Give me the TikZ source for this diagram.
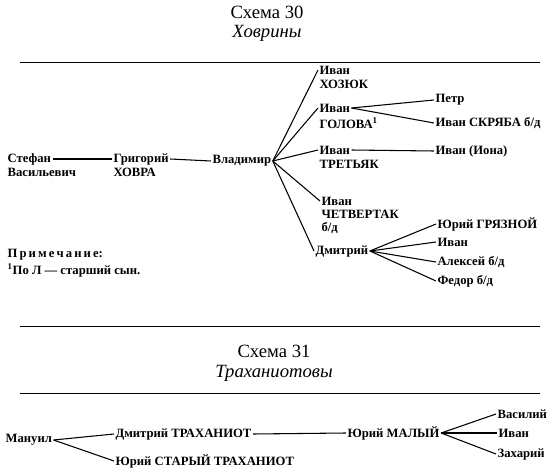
\documentclass[tikz,border=0pt]{standalone}
\usepackage{fontspec}
\setmainfont{Liberation Serif}
\begin{document}
\begin{tikzpicture}[x=0.75pt,y=-0.75pt,
  lbl/.style={font=\bfseries\fontsize{9.5}{11}\selectfont, inner sep=1pt, anchor=west},
  ttl/.style={font=\fontsize{14}{16}\selectfont, inner sep=0pt},
  con/.style={line width=0.8pt},
  rule/.style={line width=0.65pt}]
\useasboundingbox (0,0) rectangle (550,474);
% titles
\node[ttl] (t30) at (267,12) {Схема 30};
\node[ttl] (t30b) at (267,33) {\itshape Ховрины};
\coordinate (r1a) at (20,62); \coordinate (r1b) at (540,62);
\draw[rule] (r1a) -- (r1b);
% scheme 30
\node[lbl] (stef) at (6,159) {Стефан};
\node[lbl] (stef2) at (6,172) {Васильевич};
\node[lbl] (grig) at (112,159) {Григорий};
\node[lbl] (grig2) at (112,172) {ХОВРА};
\node[lbl] (vlad) at (211,161) {Владимир};
\node[lbl] (iv1) at (318,70) {Иван};
\node[lbl] (iv1b) at (318,84) {ХОЗЮК};
\node[lbl] (iv2) at (318,108) {Иван};
\node[lbl] (iv2b) at (318,123) {ГОЛОВА\textsuperscript{1}};
\node[lbl] (petr) at (434,100) {Петр};
\node[lbl] (skr) at (434,123) {Иван СКРЯБА б/д};
\node[lbl] (iv3) at (318,150) {Иван};
\node[lbl] (iv3b) at (318,164) {ТРЕТЬЯК};
\node[lbl] (iona) at (434,151) {Иван (Иона)};
\node[lbl] (iv4) at (320,201) {Иван};
\node[lbl] (iv4b) at (320,214) {ЧЕТВЕРТАК};
\node[lbl] (iv4c) at (320,228) {б/д};
\node[lbl] (dm) at (314,251) {Дмитрий};
\node[lbl] (yur) at (436,224) {Юрий ГРЯЗНОЙ};
\node[lbl] (ivd) at (436,242) {Иван};
\node[lbl] (alx) at (436,262) {Алексей б/д};
\node[lbl] (fed) at (436,281) {Федор б/д};
\draw[con] (stef.east) -- (grig.west);
\draw[con] (grig.east) -- (vlad.west);
\foreach \c in {iv1,iv2,iv3,iv4,dm} \draw[con] (vlad.east) -- (\c.west);
\foreach \c in {petr,skr} \draw[con] (iv2.east) -- (\c.west);
\draw[con] (iv3.east) -- (iona.west);
\foreach \c in {yur,ivd,alx,fed} \draw[con] (dm.east) -- (\c.west);
% note
\node[lbl] (note) at (6,255) {П\,р\,и\,м\,е\,ч\,а\,н\,и\,е:};
\node[lbl] (note2) at (6,270) {\textsuperscript{1}По Л — старший сын.};
\coordinate (r2a) at (20,326); \coordinate (r2b) at (540,326);
\draw[rule] (r2a) -- (r2b);
% scheme 31
\node[ttl] (t31) at (274,351) {Схема 31};
\node[ttl] (t31b) at (274,373) {\itshape Траханиотовы};
\coordinate (r3a) at (20,393); \coordinate (r3b) at (540,393);
\draw[rule] (r3a) -- (r3b);
\node[lbl] (man) at (4,440) {Мануил};
\node[lbl] (dmt) at (114,434) {Дмитрий ТРАХАНИОТ};
\node[lbl] (yst) at (114,461) {Юрий СТАРЫЙ ТРАХАНИОТ};
\node[lbl] (yml) at (346,433) {Юрий МАЛЫЙ};
\node[lbl] (vas) at (496,414) {Василий};
\node[lbl] (ivm) at (497,433) {Иван};
\node[lbl] (zah) at (496,454) {Захарий};
\draw[con] (man.east) -- (dmt.west);
\draw[con] (man.east) -- (yst.west);
\draw[con] (dmt.east) -- (yml.west);
\foreach \c in {vas,ivm,zah} \draw[con] (yml.east) -- (\c.west);
\end{tikzpicture}
\end{document}
